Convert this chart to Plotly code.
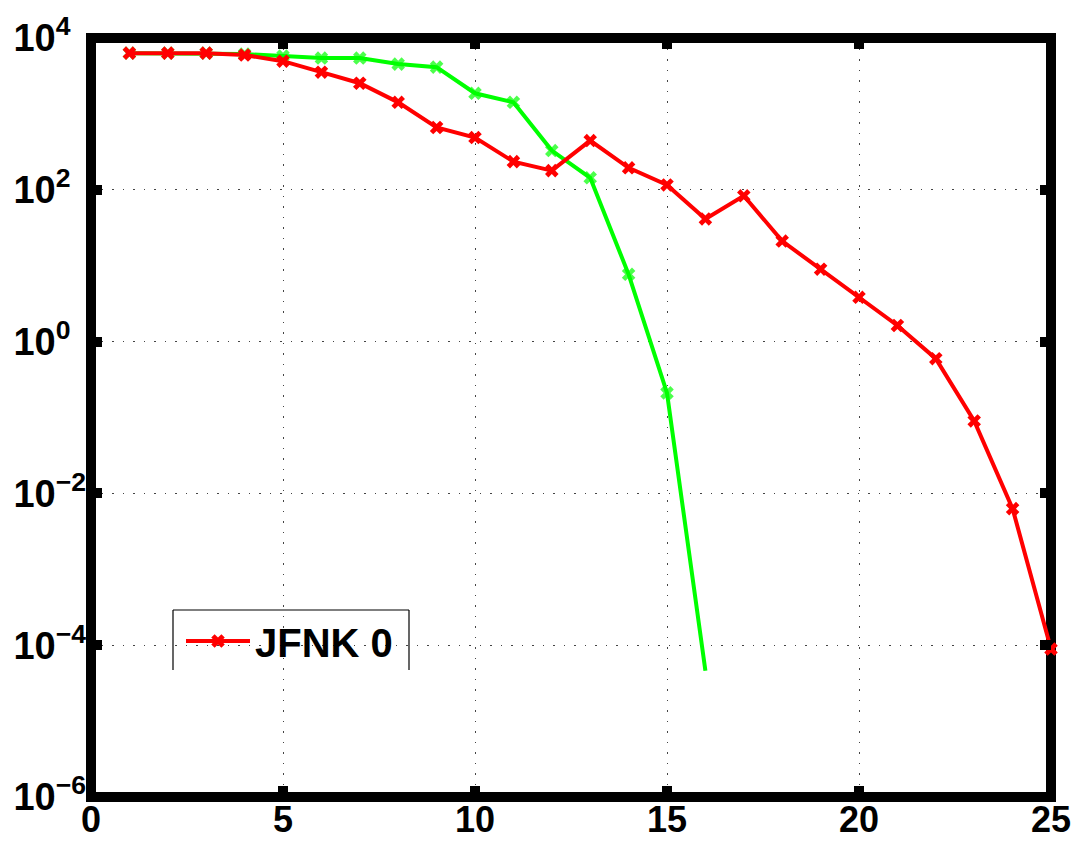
import plotly.graph_objects as go

# Data
iters_red = list(range(1, 26))
jfnk0 = [6320, 6320, 6320, 5960, 4950, 3545, 2535, 1420, 662, 488,
         235, 179, 445, 195, 116, 41.3, 83.3, 21.1, 9.0, 3.83,
         1.63, 0.596, 0.090, 6.3e-3, 8.9e-5]
iters_green = list(range(1, 17))
green_vals = [6320, 6320, 6320, 6140, 5780, 5440, 5440, 4530, 4130, 1870,
              1420, 329, 144, 7.7, 0.211, 4.6e-5]

x_ticks = [0, 5, 10, 15, 20, 25]
y_ticks = [1e-6, 1e-4, 1e-2, 1e0, 1e2, 1e4]
PAD = "<span style='color:rgba(0,0,0,0)'>−</span>"
y_ticktext = ["10<sup>−6</sup>", "10<sup>−4</sup>", "10<sup>−2</sup>",
              "10<sup>0" + PAD + "</sup>", "10<sup>2" + PAD + "</sup>",
              "10<sup>4" + PAD + "</sup>"]

FONT = "Liberation Sans, Arial, Helvetica, sans-serif"

fig = go.Figure()

fig.add_trace(go.Scatter(
    x=iters_green, y=green_vals, mode="lines+markers",
    line=dict(color="#00ff00", width=4),
    marker=dict(symbol="x", size=[12] * (len(iters_green) - 1) + [0],
                color="#00ff00", line=dict(width=0)),
    showlegend=False, cliponaxis=False, name="green"))

fig.add_trace(go.Scatter(
    x=iters_red, y=jfnk0, mode="lines+markers",
    line=dict(color="#ff0000", width=4),
    marker=dict(symbol="x", size=12, color="#ff0000", line=dict(width=0)),
    showlegend=True, cliponaxis=False, name="JFNK 0"))

# frame
fig.add_shape(type="rect", xref="paper", yref="paper", x0=0, x1=1, y0=0, y1=1,
              line=dict(color="black", width=10), layer="between")
# legend box (clipped at bottom)
lx0, lx1, ly0, ly1 = (173 - 91) / 960, (409 - 91) / 960, (797 - 670) / 759, (797 - 610) / 759
fig.add_shape(type="rect", xref="paper", yref="paper", x0=lx0, x1=lx1, y0=ly0, y1=ly1,
              fillcolor="white", line=dict(width=0), layer="between")
for (a, b, c, d) in [(lx0, ly0, lx0, ly1), (lx0, ly1, lx1, ly1), (lx1, ly1, lx1, ly0)]:
    fig.add_shape(type="line", xref="paper", yref="paper", x0=a, y0=b, x1=c, y1=d,
                  line=dict(color="black", width=1.2), layer="between")

fig.update_layout(
    width=1076, height=842,
    margin=dict(l=91, r=25, t=38, b=45),
    paper_bgcolor="white", plot_bgcolor="white",
    font=dict(family=FONT, size=37, color="black", weight="bold"),
    showlegend=True,
    legend=dict(x=(181 - 91) / 960, y=(797 - 641) / 759, xanchor="left", yanchor="middle",
                bgcolor="rgba(0,0,0,0)", borderwidth=0, itemwidth=64,
                font=dict(size=40, family=FONT, weight="bold")),
    xaxis=dict(range=[0, 25], tickvals=x_ticks, ticks="inside", ticklen=11, tickwidth=10,
               tickcolor="black", mirror="allticks", showline=False, zeroline=False,
               automargin=False, ticklabelstandoff=-2,
               showgrid=True, gridcolor="#444", gridwidth=1, griddash="1.5px,9px",
               tickfont=dict(size=36, family=FONT, weight="bold")),
    yaxis=dict(type="log", range=[-6, 4], tickvals=y_ticks, ticktext=y_ticktext,
               ticks="inside", ticklen=11, tickwidth=10, tickcolor="black",
               mirror="allticks", showline=False, zeroline=False,
               automargin=False, ticklabelstandoff=4,
               showgrid=True, gridcolor="#444", gridwidth=1, griddash="1.5px,9px",
               tickfont=dict(size=38, family=FONT, weight="bold")),
)

fig.write_html("out.html")
